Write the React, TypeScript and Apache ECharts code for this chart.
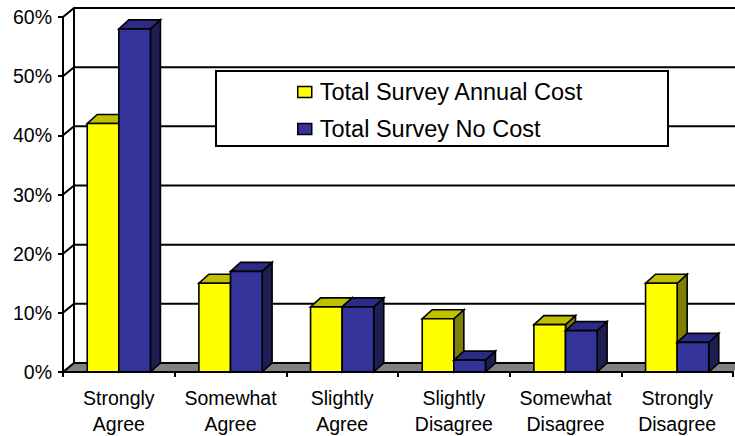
import React, { useEffect, useRef } from "react";
import * as echarts from "echarts";

// Survey response categories and the share of respondents (%) for each group
const categories = [
  "Strongly Agree",
  "Somewhat Agree",
  "Slightly Agree",
  "Slightly Disagree",
  "Somewhat Disagree",
  "Strongly Disagree",
];
const annualCost = [42, 15, 11, 9, 8, 15];
const noCost = [58, 17, 11, 2, 7, 5];
const yTicks = [0, 10, 20, 30, 40, 50, 60];

const SERIES_ANNUAL = "Total Survey Annual Cost";
const SERIES_NO_COST = "Total Survey No Cost";

// 3D projection offsets (depth of the floor/walls and of each box)
const WALL_DX = 11;
const WALL_DY = -9;
const BAR_DX = 10;
const BAR_DY = -9;
const BAR_RATIO = 0.283;
const FONT = "'Liberation Sans', Arial, Helvetica, sans-serif";

type Palette = { front: string; top: string; side: string };
const yellow: Palette = { front: "#FFFF00", top: "#C0C000", side: "#808000" };
const blue: Palette = { front: "#333399", top: "#2C2C86", side: "#1E1E52" };

const edge = { stroke: "#000", lineWidth: 1.6 };

function boxRenderer(side: -1 | 1, pal: Palette) {
  return (_params: any, api: any) => {
    const idx = api.value(0);
    const val = api.value(1);
    const base = api.coord([idx, 0]);
    const top = api.coord([idx, val]);
    const band = api.size([1, 0])[0];
    const w = band * BAR_RATIO;
    const x0 = side < 0 ? base[0] - w : base[0];
    const x1 = x0 + w;
    const yb = base[1];
    const yt = top[1];
    return {
      type: "group",
      children: [
        {
          type: "polygon",
          shape: {
            points: [
              [x1, yb],
              [x1 + BAR_DX, yb + BAR_DY],
              [x1 + BAR_DX, yt + BAR_DY],
              [x1, yt],
            ],
          },
          style: { fill: pal.side, ...edge },
        },
        {
          type: "polygon",
          shape: {
            points: [
              [x0, yt],
              [x1, yt],
              [x1 + BAR_DX, yt + BAR_DY],
              [x0 + BAR_DX, yt + BAR_DY],
            ],
          },
          style: { fill: pal.top, ...edge },
        },
        {
          type: "rect",
          shape: { x: x0, y: yt, width: w, height: yb - yt },
          style: { fill: pal.front, ...edge },
        },
      ],
    };
  };
}

// Back wall, left wall, floor and the gridlines that wrap around them
function frameRenderer(params: any, api: any) {
  const cs = params.coordSys;
  const left = cs.x;
  const right = cs.x + cs.width;
  const v = api.value(1);
  const y = api.coord([0, v])[1];
  const y0 = api.coord([0, yTicks[0]])[1];
  const yTop = api.coord([0, yTicks[yTicks.length - 1]])[1];
  const line = { stroke: "#000", lineWidth: 2, fill: null };
  const children: any[] = [];
  if (params.dataIndex === 0) {
    children.push(
      {
        type: "rect",
        shape: {
          x: left + WALL_DX,
          y: yTop + WALL_DY,
          width: right - left + 40,
          height: y0 - yTop,
        },
        style: { fill: "#fff" },
      },
      {
        type: "polygon",
        shape: {
          points: [
            [left, y0],
            [left + WALL_DX, y0 + WALL_DY],
            [left + WALL_DX, yTop + WALL_DY],
            [left, yTop],
          ],
        },
        style: { fill: "#fff" },
      },
      {
        type: "polygon",
        shape: {
          points: [
            [left, y0],
            [right, y0],
            [right + WALL_DX, y0 + WALL_DY],
            [left + WALL_DX, y0 + WALL_DY],
          ],
        },
        style: { fill: "#808080" },
      },
      {
        type: "line",
        shape: {
          x1: left + WALL_DX,
          y1: y0 + WALL_DY,
          x2: left + WALL_DX,
          y2: yTop + WALL_DY,
        },
        style: line,
      }
    );
  }
  children.push({
    type: "polyline",
    shape: {
      points: [
        [left, y],
        [left + WALL_DX, y + WALL_DY],
        [right + WALL_DX + 40, y + WALL_DY],
      ],
    },
    style: line,
  });
  return { type: "group", children };
}

export default function App() {
  const ref = useRef<HTMLDivElement>(null);

  useEffect(() => {
    if (!ref.current) return;
    const chart = echarts.init(ref.current, undefined, { renderer: "svg" });
    chart.setOption({
      animation: false,
      backgroundColor: "#fff",
      textStyle: { fontFamily: FONT },
      grid: {
        left: 63,
        right: 2,
        top: 17,
        bottom: 64,
        containLabel: false,
        outerBoundsMode: "none",
      },
      legend: {
        orient: "vertical",
        left: 297,
        top: 80,
        z: 20,
        icon: "rect",
        itemWidth: 14,
        itemHeight: 11,
        itemGap: 13,
        padding: 0,
        itemStyle: { borderColor: "#000", borderWidth: 1.5 },
        textStyle: {
          fontFamily: FONT,
          fontSize: 23.5,
          color: "#000",
          padding: [0, 0, 0, 3],
        },
        data: [SERIES_ANNUAL, SERIES_NO_COST],
      },
      graphic: [
        {
          type: "rect",
          z: 10,
          shape: { x: 216, y: 71, width: 452, height: 75 },
          style: { fill: "#fff", stroke: "#000", lineWidth: 2 },
        },
      ],
      xAxis: {
        type: "category",
        data: categories,
        boundaryGap: true,
        z: 5,
        axisLine: { lineStyle: { color: "#000", width: 2 } },
        axisTick: { show: true, length: 5, lineStyle: { color: "#000", width: 2 } },
        axisLabel: {
          interval: 0,
          margin: 13,
          color: "#000",
          fontFamily: FONT,
          fontSize: 19.5,
          lineHeight: 26,
          formatter: (s: string) => s.replace(" ", "\n"),
        },
        splitLine: { show: false },
      },
      yAxis: {
        type: "value",
        min: 0,
        max: 60,
        interval: 10,
        z: 5,
        axisLine: { show: true, lineStyle: { color: "#000", width: 2 } },
        axisTick: { show: true, length: 5, lineStyle: { color: "#000", width: 2 } },
        axisLabel: {
          margin: 11,
          color: "#000",
          fontFamily: FONT,
          fontSize: 19.5,
          formatter: "{value}%",
        },
        splitLine: { show: false },
      },
      series: [
        {
          type: "custom",
          name: "frame",
          z: 1,
          clip: false,
          silent: true,
          renderItem: frameRenderer,
          data: yTicks.map((v) => [0, v]),
        },
        {
          type: "custom",
          name: SERIES_ANNUAL,
          z: 2,
          clip: false,
          itemStyle: { color: yellow.front },
          renderItem: boxRenderer(-1, yellow),
          data: annualCost.map((v, i) => [i, v]),
        },
        {
          type: "custom",
          name: SERIES_NO_COST,
          z: 2,
          clip: false,
          itemStyle: { color: blue.front },
          renderItem: boxRenderer(1, blue),
          data: noCost.map((v, i) => [i, v]),
        },
      ],
    });
    return () => chart.dispose();
  }, []);

  return (
    <div
      ref={ref}
      style={{ position: "fixed", left: 0, top: 0, width: 735, height: 436 }}
    />
  );
}
